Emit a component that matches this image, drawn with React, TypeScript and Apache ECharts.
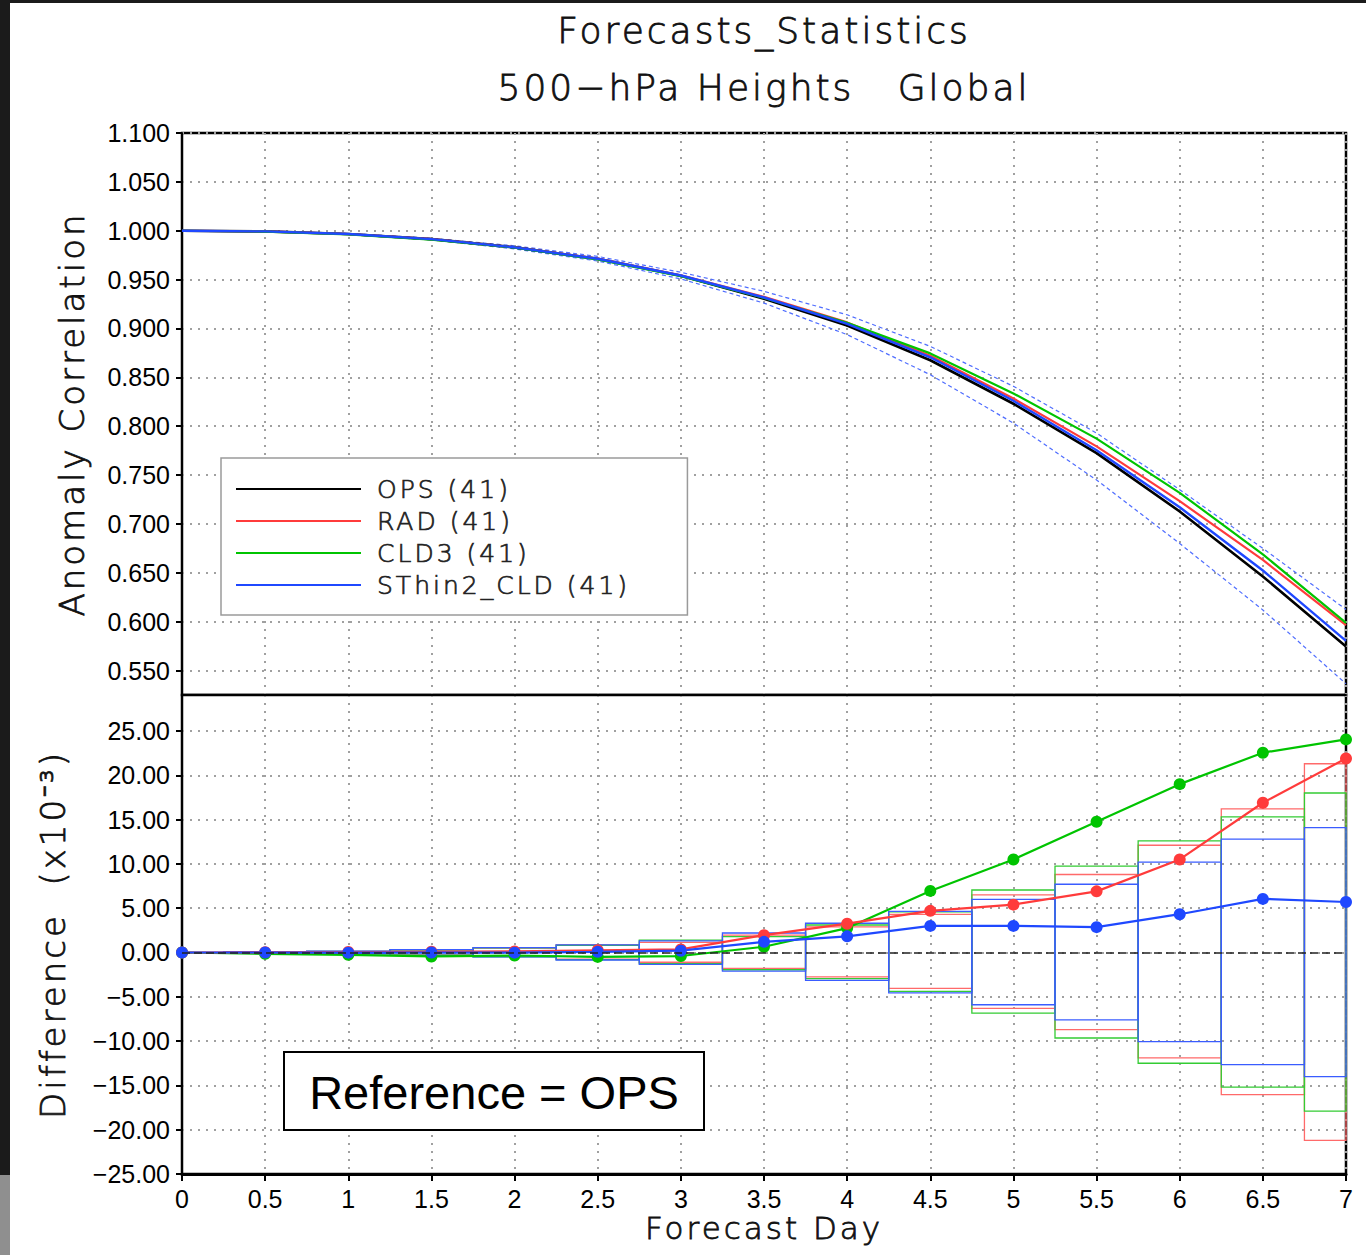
import React, { useEffect, useRef } from "react";
import * as echarts from "echarts";

// ---------- data ----------
const days = [0, 0.5, 1, 1.5, 2, 2.5, 3, 3.5, 4, 4.5, 5, 5.5, 6, 6.5, 7];
const acTicks = [0.55, 0.6, 0.65, 0.7, 0.75, 0.8, 0.85, 0.9, 0.95, 1.0, 1.05, 1.1];
const diffTicks = [-25, -20, -15, -10, -5, 0, 5, 10, 15, 20, 25];

const legendNames = ["OPS (41)", "RAD (41)", "CLD3 (41)", "SThin2_CLD (41)"];

// Anomaly correlation (top panel)
const opsAC = [1.0, 0.9993, 0.9966, 0.9914, 0.983, 0.9712, 0.954, 0.9305, 0.903, 0.8675, 0.823, 0.7725, 0.7128, 0.6463, 0.5746];
const radAC = [1.0, 0.9993, 0.9966, 0.9915, 0.9831, 0.9714, 0.9544, 0.9324, 0.9062, 0.8722, 0.8284, 0.7794, 0.7233, 0.6632, 0.5965];
const cld3AC = [1.0, 0.9991, 0.9963, 0.9909, 0.9827, 0.9707, 0.9536, 0.9312, 0.9058, 0.8745, 0.8335, 0.7873, 0.7318, 0.6689, 0.5987];
const sthinAC = [1.0, 0.9993, 0.9966, 0.9914, 0.983, 0.9713, 0.9542, 0.9317, 0.9048, 0.8705, 0.826, 0.7754, 0.7171, 0.6524, 0.5803];
const sigUpperAC = [1.0, 0.9995, 0.9971, 0.9923, 0.9846, 0.9737, 0.9575, 0.938, 0.914, 0.8817, 0.8408, 0.793, 0.735, 0.675, 0.6125];
const sigLowerAC = [1.0, 0.9991, 0.9961, 0.9905, 0.9814, 0.969, 0.9507, 0.926, 0.8937, 0.8527, 0.8032, 0.745, 0.68, 0.612, 0.5365];

// Differences from OPS (x10^-3, bottom panel)
const radDiff = [0, 0.02, 0.05, 0.08, 0.12, 0.25, 0.35, 1.95, 3.25, 4.7, 5.4, 6.9, 10.5, 16.9, 21.9];
const cld3Diff = [0, -0.15, -0.26, -0.45, -0.34, -0.5, -0.4, 0.65, 2.75, 6.95, 10.5, 14.75, 19.0, 22.55, 24.05];
const sthinDiff = [0, 0, -0.02, 0, -0.02, 0.07, 0.2, 1.2, 1.82, 3.0, 3.0, 2.86, 4.32, 6.05, 5.7];

// Significance boxes (upper / lower bounds)
const radHi = [0, 0.05, 0.12, 0.28, 0.5, 0.85, 1.15, 1.95, 2.9, 4.3, 6.5, 8.8, 12.1, 16.2, 21.3];
const radLo = [0, -0.05, -0.12, -0.28, -0.45, -0.75, -1.1, -1.8, -2.75, -4.05, -6.3, -8.7, -11.9, -16.05, -21.2];
const cld3Hi = [0, 0.05, 0.13, 0.3, 0.52, 0.8, 1.4, 1.8, 3.1, 4.6, 7.05, 9.75, 12.6, 15.3, 18.0];
const cld3Lo = [0, -0.05, -0.13, -0.3, -0.5, -0.8, -1.25, -1.95, -2.95, -4.4, -6.85, -9.65, -12.5, -15.2, -17.9];
const sthinHi = [0, 0.06, 0.14, 0.32, 0.55, 0.85, 1.3, 2.2, 3.3, 4.65, 6.0, 7.7, 10.2, 12.8, 14.1];
const sthinLo = [0, -0.06, -0.14, -0.32, -0.5, -0.85, -1.35, -2.1, -3.15, -4.55, -5.9, -7.6, -10.05, -12.65, -14.0];

// ---------- styles ----------
const BLACK = "#000000";
const RED = "#ff3b3b";
const GREEN = "#00c400";
const BLUE = "#1f48ff";
const THIN = "DejaVu Sans";
const THIN_W = 200;
const LABEL = "Liberation Sans";
const dotted = { color: "#a0a0a0", width: 2, type: [2, 6] as number[] };
const thinStroke = { textBorderColor: "#111", textBorderWidth: 0.8 };

const pair = (ys: number[]) => days.map((d, i) => [d, ys[i]]);

function boxSeries(name: string, hi: number[], lo: number[], color: string) {
  return {
    type: "custom",
    name,
    xAxisIndex: 1,
    yAxisIndex: 1,
    data: days.map((d, i) => [d, lo[i], hi[i]]),
    encode: { x: 0, y: [1, 2] },
    renderItem: (params: any, api: any) => {
      const d = api.value(0);
      const l = api.value(1);
      const h = api.value(2);
      if (h === l) return null;
      const p1 = api.coord([d - 0.25, h]);
      const p2 = api.coord([d + 0.25, l]);
      const cs = params.coordSys;
      const x1 = Math.max(p1[0], cs.x);
      const x2 = Math.min(p2[0], cs.x + cs.width);
      if (x2 <= x1) return null;
      return {
        type: "rect",
        shape: { x: x1, y: p1[1], width: x2 - x1, height: p2[1] - p1[1] },
        style: { fill: "none", stroke: color, lineWidth: 1.3 },
      };
    },
    z: 2,
  };
}

function diffSeries(name: string, ys: number[], color: string, extra: any = {}) {
  return {
    type: "line",
    name,
    xAxisIndex: 1,
    yAxisIndex: 1,
    data: pair(ys),
    color,
    symbol: "circle",
    symbolSize: 12,
    lineStyle: { color, width: 2.2 },
    itemStyle: { color },
    z: 3,
    ...extra,
  };
}

function acSeries(name: string, ys: number[], color: string, width: number) {
  return {
    type: "line",
    name,
    xAxisIndex: 0,
    yAxisIndex: 0,
    data: pair(ys),
    color,
    symbol: "none",
    lineStyle: { color, width },
    itemStyle: { color },
    z: 3,
  };
}

export default function App() {
  const ref = useRef<HTMLDivElement>(null);

  useEffect(() => {
    document.body.style.margin = "0";
    const chart = echarts.init(ref.current!, undefined, { renderer: "svg" });

    const labelFont = { fontFamily: LABEL, fontSize: 25, color: "#000" };
    const thinName = { fontFamily: THIN, fontWeight: THIN_W, fontSize: 34, color: "#111", ...thinStroke };

    const option: any = {
      animation: false,
      backgroundColor: "#ffffff",
      title: {
        text: "Forecasts_Statistics",
        subtext: "500−hPa Heights   Global",
        left: 759,
        top: 7,
        textAlign: "center",
        itemGap: 21,
        textStyle: { fontFamily: THIN, fontSize: 36, fontWeight: THIN_W, color: "#111", ...thinStroke },
        subtextStyle: { fontFamily: THIN, fontSize: 36, fontWeight: THIN_W, color: "#111", ...thinStroke },
      },
      legend: {
        orient: "vertical",
        left: 221,
        top: 458,
        icon: "rect",
        itemWidth: 125,
        itemHeight: 2,
        itemGap: 0,
        padding: [15, 102, 14, 15],
        backgroundColor: "#ffffff",
        borderColor: "#9a9a9a",
        borderWidth: 1.5,
        borderRadius: 0,
        selectedMode: false,
        data: legendNames,
        textStyle: {
          fontFamily: THIN, fontWeight: THIN_W, fontSize: 25, color: "#222", lineHeight: 32,
          padding: [0, 0, 0, 11], textBorderColor: "#222", textBorderWidth: 0.7,
        },
      },
      grid: [
        { left: 182, right: 20, top: 133, height: 562, show: true, borderColor: BLACK, borderWidth: 2.5, backgroundColor: "#fff", outerBoundsMode: "none" },
        { left: 182, right: 20, top: 695, height: 479, show: true, borderColor: BLACK, borderWidth: 2.5, backgroundColor: "#fff", outerBoundsMode: "none" },
      ],
      xAxis: [
        {
          gridIndex: 0, type: "value", min: 0, max: 7, interval: 0.5,
          axisLine: { show: true, onZero: false, lineStyle: { color: BLACK, width: 2 } },
          axisTick: { show: false },
          axisLabel: { show: false },
          splitLine: { show: true, lineStyle: dotted },
        },
        {
          gridIndex: 1, type: "value", min: 0, max: 7, interval: 0.5,
          axisLine: { show: true, onZero: false, lineStyle: { color: BLACK, width: 3 } },
          axisTick: { show: true, length: 7, lineStyle: { color: BLACK, width: 2 } },
          axisLabel: { ...labelFont, margin: 12, formatter: (v: number) => String(v) },
          splitLine: { show: true, lineStyle: dotted },
          name: "Forecast Day",
          nameLocation: "middle",
          nameGap: 39,
          nameTextStyle: { ...thinName, fontSize: 31, lineHeight: 30 },
        },
      ],
      yAxis: [
        {
          gridIndex: 0, type: "value", min: 0.525, max: 1.1,
          axisLine: { show: true, onZero: false, lineStyle: { color: BLACK, width: 2 } },
          axisTick: { show: true, customValues: acTicks, length: 6, lineStyle: { color: BLACK, width: 2 } },
          axisLabel: { ...labelFont, customValues: acTicks, margin: 12, formatter: (v: number) => v.toFixed(3) },
          splitLine: { show: true, lineStyle: dotted },
          name: "Anomaly Correlation",
          nameLocation: "middle",
          nameRotate: 90,
          nameGap: 93,
          nameTextStyle: thinName,
        },
        {
          gridIndex: 1, type: "value", min: -25, max: 29.06,
          axisLine: { show: true, onZero: false, lineStyle: { color: BLACK, width: 2 } },
          axisTick: { show: true, customValues: diffTicks, length: 6, lineStyle: { color: BLACK, width: 2 } },
          axisLabel: {
            ...labelFont, customValues: diffTicks, margin: 12,
            formatter: (v: number) => (v < 0 ? "−" : "") + Math.abs(v).toFixed(2),
          },
          splitLine: { show: true, lineStyle: dotted },
          name: "Difference  (x10⁻³)",
          nameLocation: "middle",
          nameRotate: 90,
          nameGap: 112,
          nameTextStyle: { ...thinName, fontSize: 34 },
        },
      ],
      series: [
        // top panel
        {
          type: "line", name: "upper bound", xAxisIndex: 0, yAxisIndex: 0, data: pair(sigUpperAC),
          symbol: "none", color: BLUE, lineStyle: { color: "#4f6dff", width: 1.2, type: [4, 3] }, z: 3,
        },
        {
          type: "line", name: "lower bound", xAxisIndex: 0, yAxisIndex: 0, data: pair(sigLowerAC),
          symbol: "none", color: BLUE, lineStyle: { color: "#4f6dff", width: 1.2, type: [4, 3] }, z: 3,
        },
        acSeries(legendNames[0], opsAC, BLACK, 2.6),
        acSeries(legendNames[1], radAC, RED, 2.2),
        acSeries(legendNames[2], cld3AC, GREEN, 2.2),
        acSeries(legendNames[3], sthinAC, BLUE, 2.4),
        // bottom panel boxes
        boxSeries("RAD significance", radHi, radLo, "#ff6a6a"),
        boxSeries("CLD3 significance", cld3Hi, cld3Lo, "#33cc33"),
        boxSeries("SThin2_CLD significance", sthinHi, sthinLo, "#3a5cff"),
        // bottom panel differences
        diffSeries("CLD3 − OPS", cld3Diff, GREEN, {
          markLine: {
            silent: true,
            symbol: "none",
            label: { show: false },
            lineStyle: { color: "#222", width: 1.5, type: [8, 4] },
            data: [{ yAxis: 0 }],
          },
        }),
        diffSeries("RAD − OPS", radDiff, RED),
        diffSeries("SThin2_CLD − OPS", sthinDiff, BLUE),
      ],
      graphic: [
        { type: "rect", z: 50, silent: true, shape: { x: 0, y: 0, width: 10, height: 1175 }, style: { fill: "#1b1b1b" } },
        { type: "rect", z: 50, silent: true, shape: { x: 0, y: 1175, width: 10, height: 80 }, style: { fill: "#8f8f8f" } },
        { type: "rect", z: 50, silent: true, shape: { x: 0, y: 0, width: 1366, height: 3 }, style: { fill: "#1b1b1b" } },
        {
          type: "rect", z: 60, silent: true,
          shape: { x: 284, y: 1052, width: 420, height: 78 },
          style: { fill: "#fff", stroke: "#000", lineWidth: 2 },
        },
        {
          type: "text", z: 61, silent: true, x: 494, y: 1092,
          style: { text: "Reference = OPS", fontFamily: LABEL, fontSize: 47, fill: "#000", textAlign: "center", textVerticalAlign: "middle" },
        },
      ],
    };

    chart.setOption(option);
    return () => chart.dispose();
  }, []);

  return (
    <>
      <style>{`.grads-chart text { white-space: pre; } .grads-chart text[style*="DejaVu"] { letter-spacing: 3px; }`}</style>
      <div className="grads-chart" ref={ref} style={{ width: 1366, height: 1255 }} />
    </>
  );
}
